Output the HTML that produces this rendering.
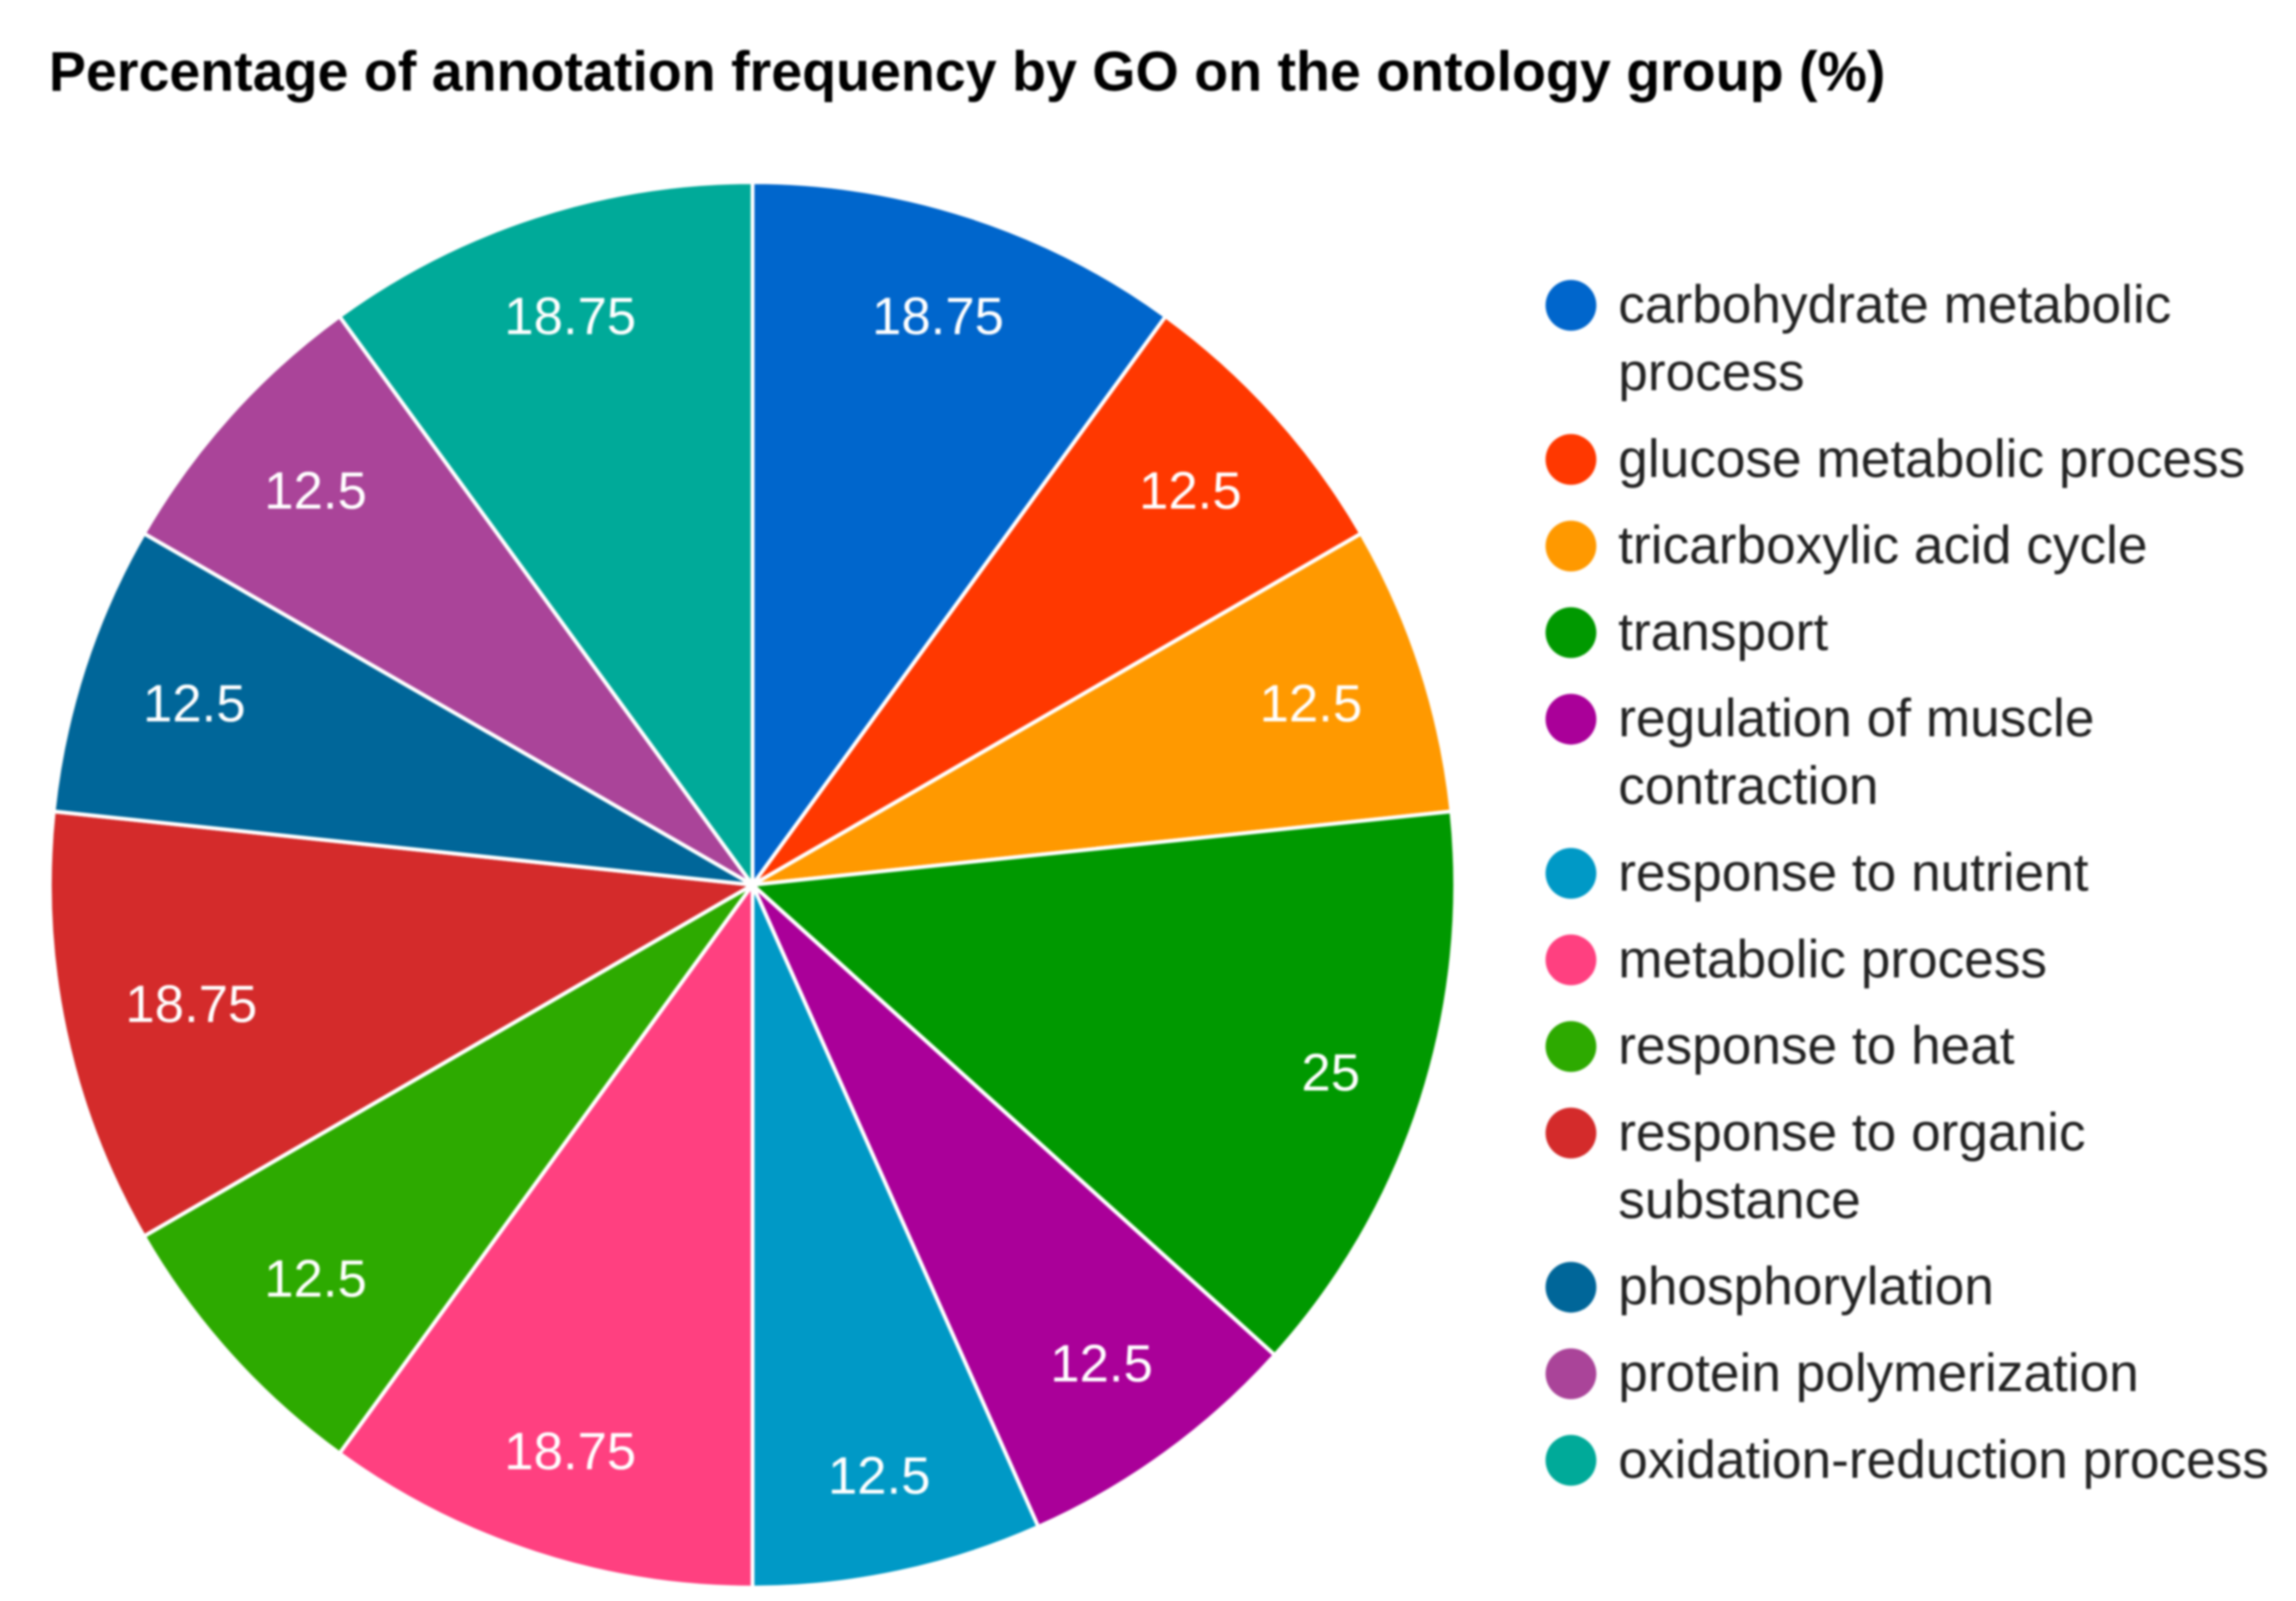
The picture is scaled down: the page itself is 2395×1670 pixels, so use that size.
<!DOCTYPE html>
<html lang="en">
<head>
<meta charset="utf-8">
<title>Percentage of annotation frequency by GO on the ontology group (%)</title>
<style>
  html, body { margin: 0; padding: 0; background: #fff; }
  body { width: 2395px; height: 1670px; overflow: hidden; }
  svg { display: block; filter: blur(1px); font-family: "Liberation Sans", Arial, sans-serif; }
</style>
</head>
<body>
<svg id="chart" xmlns="http://www.w3.org/2000/svg" width="2395" height="1670" viewBox="0 0 2395 1670">
  <rect width="2395" height="1670" fill="#ffffff"/>
  <text x="51" y="94.5" font-size="57.96" font-weight="bold" fill="#000000">Percentage of annotation frequency by GO on the ontology group (%)</text>
  <g id="slices"></g>
  <g id="slice-labels"></g>
  <g id="legend"></g>
</svg>
<script>
const categories = [
  "carbohydrate metabolic\nprocess",
  "glucose metabolic process",
  "tricarboxylic acid cycle",
  "transport",
  "regulation of muscle\ncontraction",
  "response to nutrient",
  "metabolic process",
  "response to heat",
  "response to organic\nsubstance",
  "phosphorylation",
  "protein polymerization",
  "oxidation-reduction process"
];
const values = [18.75, 12.5, 12.5, 25, 12.5, 12.5, 18.75, 12.5, 18.75, 12.5, 12.5, 18.75];
const colors = ["#0066cc", "#ff3800", "#ff9900", "#009900", "#aa0099", "#0099c6", "#ff4080", "#2daa00", "#d42b2b", "#006699", "#aa4499", "#00aa99"];

const SVG_NS = "http://www.w3.org/2000/svg";
const cx = 785, cy = 923, radius = 733;
const labelFontSize = 55, labelOuter = 671, labelHalfHeight = 25;
const legendDotX = 1638.7, legendDotR = 26.5, legendTextX = 1688, legendFontSize = 55.5;
const legendStartY = 336.5, legendLineStep = 70.5, legendEntryStep = 90.3;

const total = values.reduce(function (a, b) { return a + b; }, 0);
function angleOf(v) { return v / total * Math.PI * 2; }
function px(a, r) { return cx + r * Math.sin(a); }
function py(a, r) { return cy - r * Math.cos(a); }

const slicesG = document.getElementById("slices");
const labelsG = document.getElementById("slice-labels");
const legendG = document.getElementById("legend");

function slug(s) { return s.replace(/\n/g, " ").replace(/[^a-z0-9]+/gi, "-").toLowerCase(); }

let start = 0;
values.forEach(function (v, i) {
  const sweep = angleOf(v);
  const end = start + sweep;
  const mid = start + sweep / 2;
  const large = sweep > Math.PI ? 1 : 0;

  const path = document.createElementNS(SVG_NS, "path");
  path.setAttribute("d", "M" + cx + " " + cy + " L" + px(start, radius) + " " + py(start, radius) +
    " A" + radius + " " + radius + " 0 " + large + " 1 " + px(end, radius) + " " + py(end, radius) + " Z");
  path.setAttribute("fill", colors[i]);
  path.setAttribute("stroke", "#ffffff");
  path.setAttribute("stroke-width", "4");
  path.setAttribute("stroke-linejoin", "round");
  
  
  slicesG.appendChild(path);

  const label = document.createElementNS(SVG_NS, "text");
  label.textContent = String(v);
  label.setAttribute("font-size", labelFontSize);
  label.setAttribute("fill", "#ffffff");
  label.setAttribute("text-anchor", "middle");
  
  
  labelsG.appendChild(label);
  const halfW = label.getComputedTextLength() / 2;
  const cosMid = Math.cos(mid);
  const inset = halfW * Math.abs(Math.sin(mid)) + labelHalfHeight * Math.abs(cosMid);
  const r = labelOuter - inset;
  const yNudge = cosMid > 0 ? 3 * Math.pow(cosMid, 6) : 1.5 * Math.pow(cosMid, 4) - 7.5 * Math.pow(cosMid, 6);
  const xNudge = Math.sin(mid) < 0 ? 4 * Math.pow(cosMid, 4) : 0;
  label.setAttribute("x", px(mid, r) + xNudge);
  label.setAttribute("y", py(mid, r) + 18.5 + yNudge);

  start = end;
});

let rowY = legendStartY;
categories.forEach(function (name, i) {
  const entry = document.createElementNS(SVG_NS, "g");
  
  

  const dot = document.createElementNS(SVG_NS, "circle");
  dot.setAttribute("cx", legendDotX);
  dot.setAttribute("cy", rowY - 18);
  dot.setAttribute("r", legendDotR);
  dot.setAttribute("fill", colors[i]);
  
  
  entry.appendChild(dot);

  const lines = name.split("\n");
  lines.forEach(function (line, j) {
    const t = document.createElementNS(SVG_NS, "text");
    t.textContent = line;
    t.setAttribute("x", legendTextX);
    t.setAttribute("y", rowY + j * legendLineStep);
    t.setAttribute("font-size", legendFontSize);
    t.setAttribute("fill", "#222222");
    
    
    entry.appendChild(t);
  });
  legendG.appendChild(entry);
  rowY += (lines.length - 1) * legendLineStep + legendEntryStep;
});
</script>
</body>
</html>
